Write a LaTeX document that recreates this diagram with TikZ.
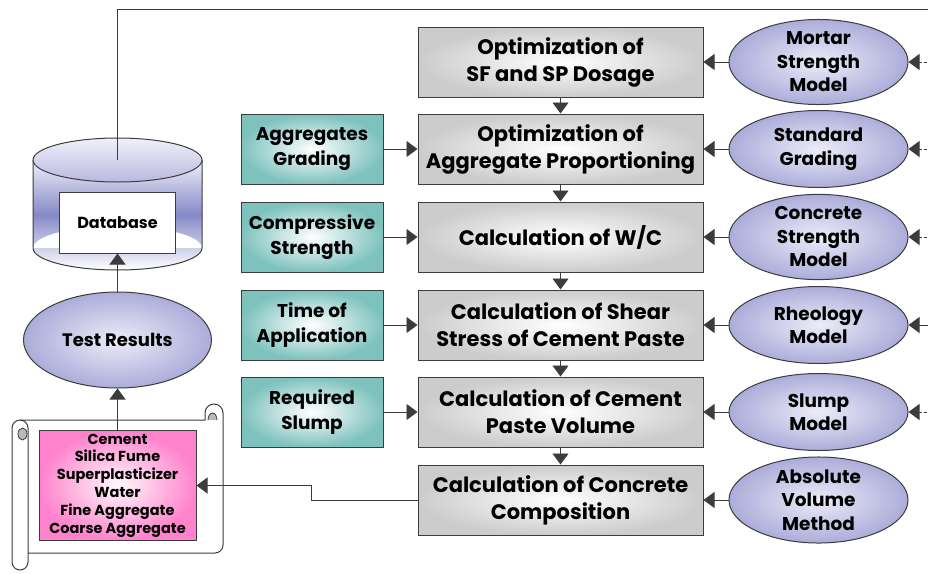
\documentclass[tikz,border=0pt]{standalone}
\usepackage{fontspec}
\setmainfont{Poppins}
\usetikzlibrary{arrows.meta,shapes.geometric}

\definecolor{boxgray}{RGB}{204,204,204}
\definecolor{inteal}{RGB}{126,194,190}
\definecolor{modblue}{RGB}{172,172,218}
\definecolor{modlight}{RGB}{236,236,248}
\definecolor{mixpink}{RGB}{255,130,204}
\definecolor{dbblue}{RGB}{132,137,198}
\definecolor{dblight}{RGB}{240,240,250}
\definecolor{linegray}{RGB}{60,60,60}

\tikzset{
  calcbox/.style={rectangle, draw=linegray, line width=1pt, inner color=white, outer color=boxgray,
    minimum width=285, minimum height=70, align=center, font=\fontsize{21}{27}\selectfont\bfseries},
  inbox/.style={rectangle, draw=linegray, line width=1pt, inner color=white, outer color=inteal,
    minimum width=142, minimum height=70, align=center, font=\fontsize{18.5}{25}\selectfont\bfseries},
  model/.style={ellipse, draw=linegray, line width=1pt, inner color=modlight, outer color=modblue,
    minimum width=179, minimum height=77, inner sep=0pt, align=center, font=\fontsize{18.5}{23.5}\selectfont\bfseries},
  link/.style={->, draw=linegray, line width=0.9pt},
}

\begin{document}
\begin{tikzpicture}[x=1pt,y=-1pt, >={Triangle[length=11pt,width=16pt]}]
\useasboundingbox (0,0) rectangle (928,573);

% main chain of calculations
\node[calcbox] (sfsp) at (560.5,62) {Optimization of\\SF and SP Dosage};
\node[calcbox] (aggprop) at (560.5,149) {Optimization of\\Aggregate Proportioning};
\node[calcbox] (wc) at (560.5,237) {Calculation of W/C};
\node[calcbox] (shear) at (560.5,325) {Calculation of Shear\\Stress of Cement Paste};
\node[calcbox] (paste) at (560.5,412) {Calculation of Cement\\Paste Volume};
\node[calcbox] (comp) at (560.5,500) {Calculation of Concrete\\Composition};

% required inputs
\node[inbox] (grading) at (312,149) {Aggregates\\Grading};
\node[inbox] (strength) at (312,237) {Compressive\\Strength};
\node[inbox] (time) at (312,325) {Time of\\Application};
\node[inbox] (slump) at (312,412) {Required\\Slump};

% models
\node[model] (mortar) at (818.5,62) {Mortar\\Strength\\Model};
\node[model] (stdgrad) at (818.5,149) {Standard\\Grading};
\node[model] (concmod) at (818.5,237) {Concrete\\Strength\\Model};
\node[model] (rheo) at (818.5,325) {Rheology\\Model};
\node[model] (slumpmod) at (818.5,412) {Slump\\Model};
\node[model] (absvol) at (818.5,500) {Absolute\\Volume\\Method};

\foreach \a/\b in {sfsp/aggprop, aggprop/wc, wc/shear, shear/paste, paste/comp}
  \draw[link] (\a) -- (\b);
\foreach \a/\b in {grading/aggprop, strength/wc, time/shear, slump/paste}
  \draw[link] (\a) -- (\b);
\foreach \a/\b in {mortar/sfsp, stdgrad/aggprop, concmod/wc, rheo/shear, slumpmod/paste, absvol/comp}
  \draw[link] (\a) -- (\b);
\foreach \m in {mortar, stdgrad, concmod, slumpmod}
  \draw[link, <-, densely dashed] (\m.east) -- ++(22,0);
\draw[link, <-] (rheo.east) -- ++(22,0);

% database cylinder
\path[top color=dblight, bottom color=white, middle color=dbblue]
  (33,160) rectangle (202,248) (117.5,248) ellipse[x radius=84.5, y radius=22];
\draw[linegray, line width=1pt] (33,160) -- (33,248)
  arc[start angle=180, end angle=0, x radius=84.5, y radius=22] -- (202,160);
\draw[linegray, line width=1pt, top color=dblight, bottom color=modblue!85]
  (117.5,160) ellipse[x radius=84.5, y radius=22];
\coordinate (dbtop) at (117.5,160);
\coordinate (topend) at (928,9);
\node[draw=linegray, line width=1pt, fill=white, minimum width=116, minimum height=61,
  font=\fontsize{16}{18}\selectfont\bfseries] (dbbox) at (117.5,222.5) {Database};
\draw[linegray, line width=0.9pt] (dbtop) |- (topend);

\node[ellipse, draw=linegray, line width=1pt, inner color=modlight, outer color=modblue,
  minimum width=188, minimum height=96, font=\fontsize{18}{20}\selectfont\bfseries] (test) at (117.5,340) {Test Results};

% scroll with the mix
\draw[linegray, line width=1pt] (20,420) -- (205,420) -- (205,413)
  arc[start angle=180, end angle=360, radius=9] -- (223,545)
  arc[start angle=0, end angle=90, radius=8] -- (28,553);
\draw[linegray, line width=1pt] (20,420) arc[start angle=270, end angle=180, radius=8]
  -- (12,562) arc[start angle=180, end angle=0, radius=8] -- (28,428)
  arc[start angle=0, end angle=-90, radius=8];
\filldraw[linegray, fill=gray!55, line width=0.8pt] (22.5,434) ellipse[x radius=4.5, y radius=6];
\filldraw[linegray, fill=gray!55, line width=0.8pt] (208,420) arc[start angle=180, end angle=360, x radius=4.5, y radius=7];
\node[rectangle, draw=linegray, line width=1pt, inner color=mixpink!5, outer color=mixpink,
  minimum width=157, minimum height=105, align=center, font=\fontsize{14.5}{17.8}\selectfont\bfseries] (mix) at (117.5,485.5)
  {Cement\\Silica Fume\\Superplasticizer\\Water\\Fine Aggregate\\Coarse Aggregate};

\draw[link] (mix) -- (test);
\draw[link] (test) -- (dbbox);
\draw[link] (comp.west) -- ++(-106,0) |- (mix.east);
\end{tikzpicture}
\end{document}
